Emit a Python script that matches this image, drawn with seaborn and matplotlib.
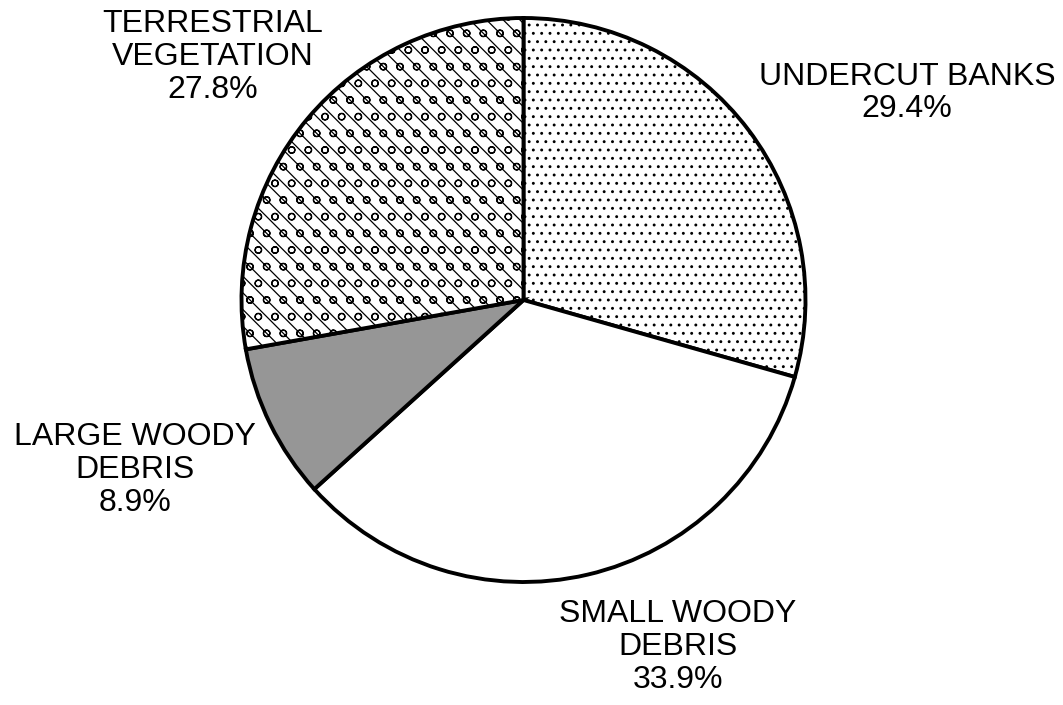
import matplotlib
matplotlib.use("Agg")
import matplotlib.pyplot as plt
import seaborn as sns

sns.set_theme(style="white")
plt.rcParams['font.family'] = ['Liberation Sans', 'DejaVu Sans']
plt.rcParams['hatch.linewidth'] = 0.9

categories = ["UNDERCUT BANKS", "SMALL WOODY\nDEBRIS", "LARGE WOODY\nDEBRIS", "TERRESTRIAL\nVEGETATION"]
values = [29.4, 33.9, 8.9, 27.8]
colors = ["white", "white", "#969696", "white"]
hatches = ["..", "", "", "\\\\o"]

fig = plt.figure(figsize=(10.63, 7.05), dpi=100)
ax = fig.add_axes([0, 0, 1, 1])
R = 282.0
cx, cy = 523.5, 300.0
wedges, _ = ax.pie(values, startangle=90, counterclock=False, colors=colors,
                   radius=1, center=(0, 0),
                   wedgeprops=dict(edgecolor="black", linewidth=2.8))
for w, h in zip(wedges, hatches):
    w.set_hatch(h)
ax.set_xlim(-cx / R, (1063 - cx) / R)
ax.set_ylim(-(705 - cy) / R, cy / R)
ax.set_aspect("equal")
ax.axis("off")

def px(x, y):
    return (x - cx) / R, (cy - y) / R

label_pos = [(907, 93), (678, 647), (135, 470), (213, 57)]
for cat, v, (x, y) in zip(categories, values, label_pos):
    tx, ty = px(x, y)
    ax.text(tx, ty, f"{cat}\n{v}%", ha="center", va="center", fontsize=23,
            linespacing=1.13, color="black")

fig.savefig("out.png", dpi=100)
